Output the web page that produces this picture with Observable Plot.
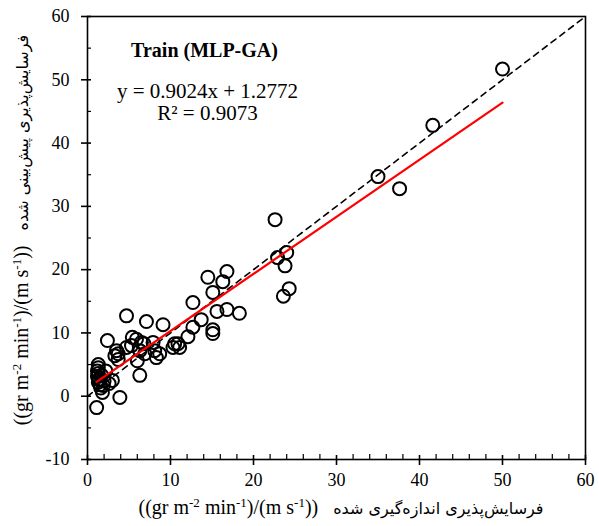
<!DOCTYPE html>
<html><head><meta charset="utf-8">
<script src="https://cdn.jsdelivr.net/npm/d3@7"></script>
<script src="https://cdn.jsdelivr.net/npm/@observablehq/plot@0.6"></script>
<style>body{margin:0;background:#fff}</style>
</head><body><div id="chart"></div>
<script>
// Measured (x) and predicted (y) erodibility, Train (MLP-GA)
const measured = [1.3,1.3,1.2,1.3,1.2,1.4,1.3,1.5,1.6,1.8,1.1,1.9,2.0,1.7,2.2,2.6,
  2.4,3.0,3.9,3.3,3.5,3.7,3.7,4.7,4.7,5.3,5.4,5.9,6.0,6.3,6.3,6.5,6.8,6.9,7.1,7.9,8.1,8.3,8.7,9.1,
  10.3,10.5,10.9,11.1,12.1,12.7,12.7,13.7,15.1,15.1,15.1,15.6,16.3,16.8,14.5,16.8,18.3,
  22.6,22.9,24.0,23.8,24.3,23.6,35.0,37.6,41.6,50.0];
const predicted = [5.0,4.5,4.0,3.6,3.1,2.7,2.2,1.8,1.3,0.6,-1.8,1.7,2.4,3.3,4.0,2.0,
  8.8,2.5,-0.2,6.4,7.2,5.8,6.7,7.7,12.7,8.0,9.3,9.0,5.6,7.2,3.3,8.5,8.3,6.7,11.8,8.5,7.2,6.1,6.7,11.3,
  7.7,8.3,8.3,7.7,9.4,10.9,14.8,12.1,10.5,9.9,16.4,13.4,18.1,19.7,18.8,13.7,13.1,
  27.9,21.9,22.7,20.6,17.0,15.8,34.7,32.8,42.8,51.7];
const xTicks = [0,10,20,30,40,50,60];
const xMinor = [2,4,6,8,12,14,16,18,22,24,26,28,32,34,36,38,42,44,46,48,52,54,56,58];
const yTicks = [-10,0,10,20,30,40,50,60];
const yMinor = [-5,5,15,25,35,45,55];
const fitSlope = 0.9024, fitIntercept = 1.2772;
const fitRange = [1.1, 50];
const identityRange = [0, 60];
const titleText = "Train (MLP-GA)";
const eqText = "y = 0.9024x + 1.2772";
const r2Text = "R² = 0.9073";
const xTitlePersian = "فرسایش\u200cپذیری اندازه\u200cگیری شده";
const yTitlePersian = "فرسایش\u200cپذیری پیش\u200cبینی شده";
const unitParts = [["((gr m", false], ["-2", true], [" min", false], ["-1", true], [")/(m s", false], ["-1", true], ["))", false]];

const points = measured.map((x, i) => ({x, y: predicted[i]}));
const fit = fitRange.map(x => ({x, y: fitSlope * x + fitIntercept}));
const identity = identityRange.map(v => ({x: v, y: v}));

const serif = "'Liberation Serif', 'Times New Roman', serif";
const fmt = d => String(d);

const plot = Plot.plot({
  width: 599, height: 526,
  marginLeft: 87, marginRight: 14, marginTop: 16, marginBottom: 67,
  style: {fontFamily: serif, background: "white"},
  x: {domain: [0, 60]},
  y: {domain: [-10, 60]},
  marks: [
    Plot.line(identity, {x: "x", y: "y", stroke: "black", strokeWidth: 1.6, strokeDasharray: "6,5"}),
    Plot.dot(points, {x: "x", y: "y", r: 6.5, stroke: "black", strokeWidth: 2, fill: "none"}),
    Plot.line(fit, {x: "x", y: "y", stroke: "red", strokeWidth: 2.2}),
    Plot.frame({stroke: "black", strokeWidth: 1.6}),
    Plot.axisX(xTicks, {tickSize: 6, tickPadding: 8, fontSize: 18, tickFormat: fmt, label: null, strokeWidth: 1.6}),
    Plot.axisX(xTicks, {tickSize: -4, text: null, label: null, strokeWidth: 1.6}),
    Plot.axisX(xMinor, {tickSize: -5, text: null, label: null, strokeWidth: 1.2}),
    Plot.axisY(yTicks, {tickSize: 6, tickPadding: 12, fontSize: 18, tickFormat: fmt, label: null, strokeWidth: 1.6}),
    Plot.axisY(yTicks, {tickSize: -4, text: null, label: null, strokeWidth: 1.6}),
    Plot.axisY(yMinor, {tickSize: -4, text: null, label: null, strokeWidth: 1.2}),
    Plot.text([titleText], {text: d => d, frameAnchor: "top-left", textAnchor: "middle", dx: 117, dy: 26, fontSize: 20, fontWeight: "bold", fill: "black"}),
    Plot.text([eqText], {text: d => d, frameAnchor: "top-left", textAnchor: "middle", dx: 120, dy: 67, fontSize: 21, fill: "black"}),
    Plot.text([r2Text], {text: d => d, frameAnchor: "top-left", textAnchor: "middle", dx: 120, dy: 89, fontSize: 21, fill: "black"})
  ]
});
document.getElementById("chart").appendChild(plot);

// Axis titles with superscripts (units on the left, Persian on the right)
const svg = d3.select(plot);
function addLabel(g, persian) {
  const t = g.append("text").attr("text-anchor", "middle").attr("font-family", serif)
    .attr("font-size", 20).attr("fill", "black").style("white-space", "pre");
  let prevSup = false;
  unitParts.forEach(([s, sup]) => {
    const ts = t.append("tspan").text(s);
    if (sup) { ts.attr("font-size", 13).attr("dy", prevSup ? 0 : -7); }
    else if (prevSup) { ts.attr("dy", 7); }
    prevSup = sup;
  });
  t.append("tspan").text("\u00a0\u00a0\u00a0");
  t.append("tspan").attr("font-family", "'DejaVu Sans', sans-serif").attr("font-size", 16).text(persian);
}
const gx = svg.append("g").attr("transform", "translate(341,514)");
addLabel(gx, xTitlePersian);
const gy = svg.append("g").attr("transform", "translate(28,230) rotate(-90)");
addLabel(gy, yTitlePersian);
</script>
</body></html>
